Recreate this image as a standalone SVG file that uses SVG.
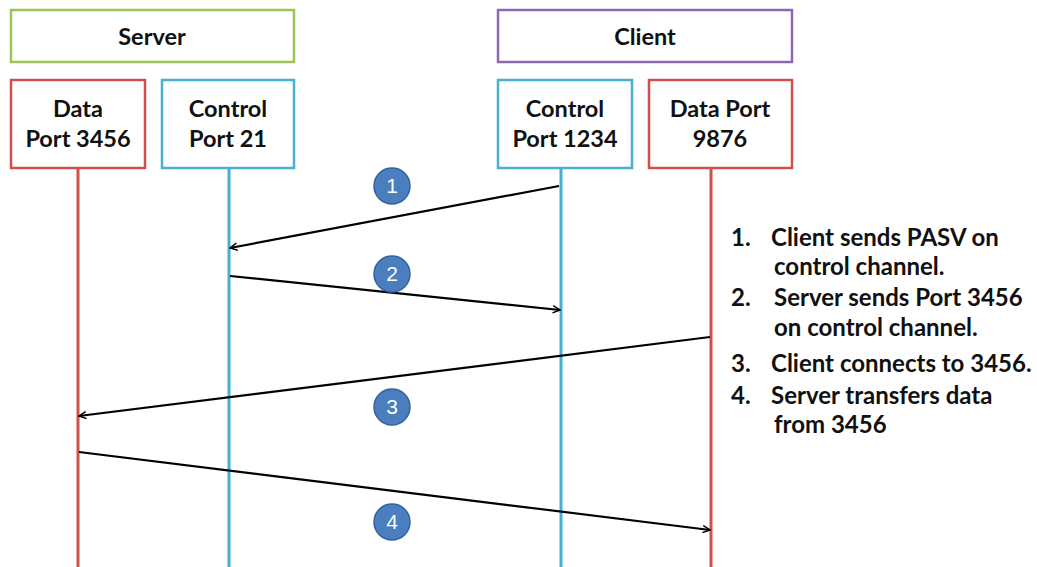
<svg xmlns="http://www.w3.org/2000/svg" width="1037" height="567" viewBox="0 0 1037 567">
<style>
.box{fill:#fff;stroke-width:2.5}
.lbl{font-family:Lato,"Liberation Sans",sans-serif;font-weight:bold;font-size:23.5px;fill:#111;text-anchor:middle}
.note{font-family:Lato,"Liberation Sans",sans-serif;font-weight:bold;font-size:24px;fill:#111}
.life{stroke-width:3;fill:none}
.msg{stroke:#000;stroke-width:2.2;fill:none;marker-end:url(#ah)}
.num circle{fill:#4a7ebe;stroke:#35639c;stroke-width:1.5}
.num text{font-family:"Liberation Sans",sans-serif;font-size:21px;fill:#fff;text-anchor:middle}
</style>
<defs>
<marker id="ah" viewBox="0 0 10 10" refX="9" refY="5" markerWidth="9" markerHeight="9" markerUnits="userSpaceOnUse" orient="auto">
<path d="M1,1 L9,5 L1,9" fill="none" stroke="#000" stroke-width="1.6"/>
</marker>
</defs>
<rect width="1037" height="567" fill="#fff"/>
<g id="lifelines">
<line class="life" x1="78" y1="168" x2="78" y2="567" stroke="#d0504d"/>
<line class="life" x1="229" y1="168" x2="229" y2="567" stroke="#45b1cf"/>
<line class="life" x1="561" y1="168" x2="561" y2="567" stroke="#45b1cf"/>
<line class="life" x1="711" y1="168" x2="711" y2="567" stroke="#d0504d"/>
</g>
<g id="server"><rect class="box" x="11" y="10" width="283" height="52" stroke="#9bc455"/><text class="lbl" x="152" y="45">Server</text></g>
<g id="client"><rect class="box" x="498" y="10" width="294" height="52" stroke="#8d68b3"/><text class="lbl" x="645" y="45">Client</text></g>
<g id="sdata"><rect class="box" x="11" y="80" width="134" height="88" stroke="#d0504d"/><text class="lbl" x="78" y="117">Data</text><text class="lbl" x="78" y="147">Port 3456</text></g>
<g id="sctrl"><rect class="box" x="162" y="80" width="132" height="88" stroke="#45b1cf"/><text class="lbl" x="228" y="117">Control</text><text class="lbl" x="228" y="147">Port 21</text></g>
<g id="cctrl"><rect class="box" x="498" y="80" width="134" height="88" stroke="#45b1cf"/><text class="lbl" x="565" y="117">Control</text><text class="lbl" x="565" y="147">Port 1234</text></g>
<g id="cdata"><rect class="box" x="649" y="80" width="143" height="88" stroke="#d0504d"/><text class="lbl" x="720" y="117">Data Port</text><text class="lbl" x="720" y="147">9876</text></g>
<g id="connectors">
<line class="msg" x1="559" y1="186" x2="230" y2="248"/>
<line class="msg" x1="230" y1="276" x2="560" y2="310"/>
<line class="msg" x1="710" y1="337" x2="79" y2="416"/>
<line class="msg" x1="79" y1="452" x2="710" y2="530"/>
</g>
<g id="n1" class="num"><circle cx="392" cy="186" r="18"/><text x="392" y="193">1</text></g>
<g id="n2" class="num"><circle cx="392" cy="274" r="18"/><text x="392" y="281">2</text></g>
<g id="n3" class="num"><circle cx="392" cy="407" r="18"/><text x="392" y="414">3</text></g>
<g id="n4" class="num"><circle cx="392" cy="522" r="18"/><text x="392" y="529">4</text></g>
<g id="notes">
<text class="note" x="731" y="246">1.</text><text class="note" x="771" y="246">Client sends PASV on</text>
<text class="note" x="774" y="275">control channel.</text>
<text class="note" x="731" y="306">2.</text><text class="note" x="774" y="306">Server sends Port 3456</text>
<text class="note" x="774" y="336">on control channel.</text>
<text class="note" x="731" y="372">3.</text><text class="note" x="771" y="372">Client connects to 3456.</text>
<text class="note" x="731" y="404">4.</text><text class="note" x="771" y="404">Server transfers data</text>
<text class="note" x="774" y="433">from 3456</text>
</g>
</svg>
